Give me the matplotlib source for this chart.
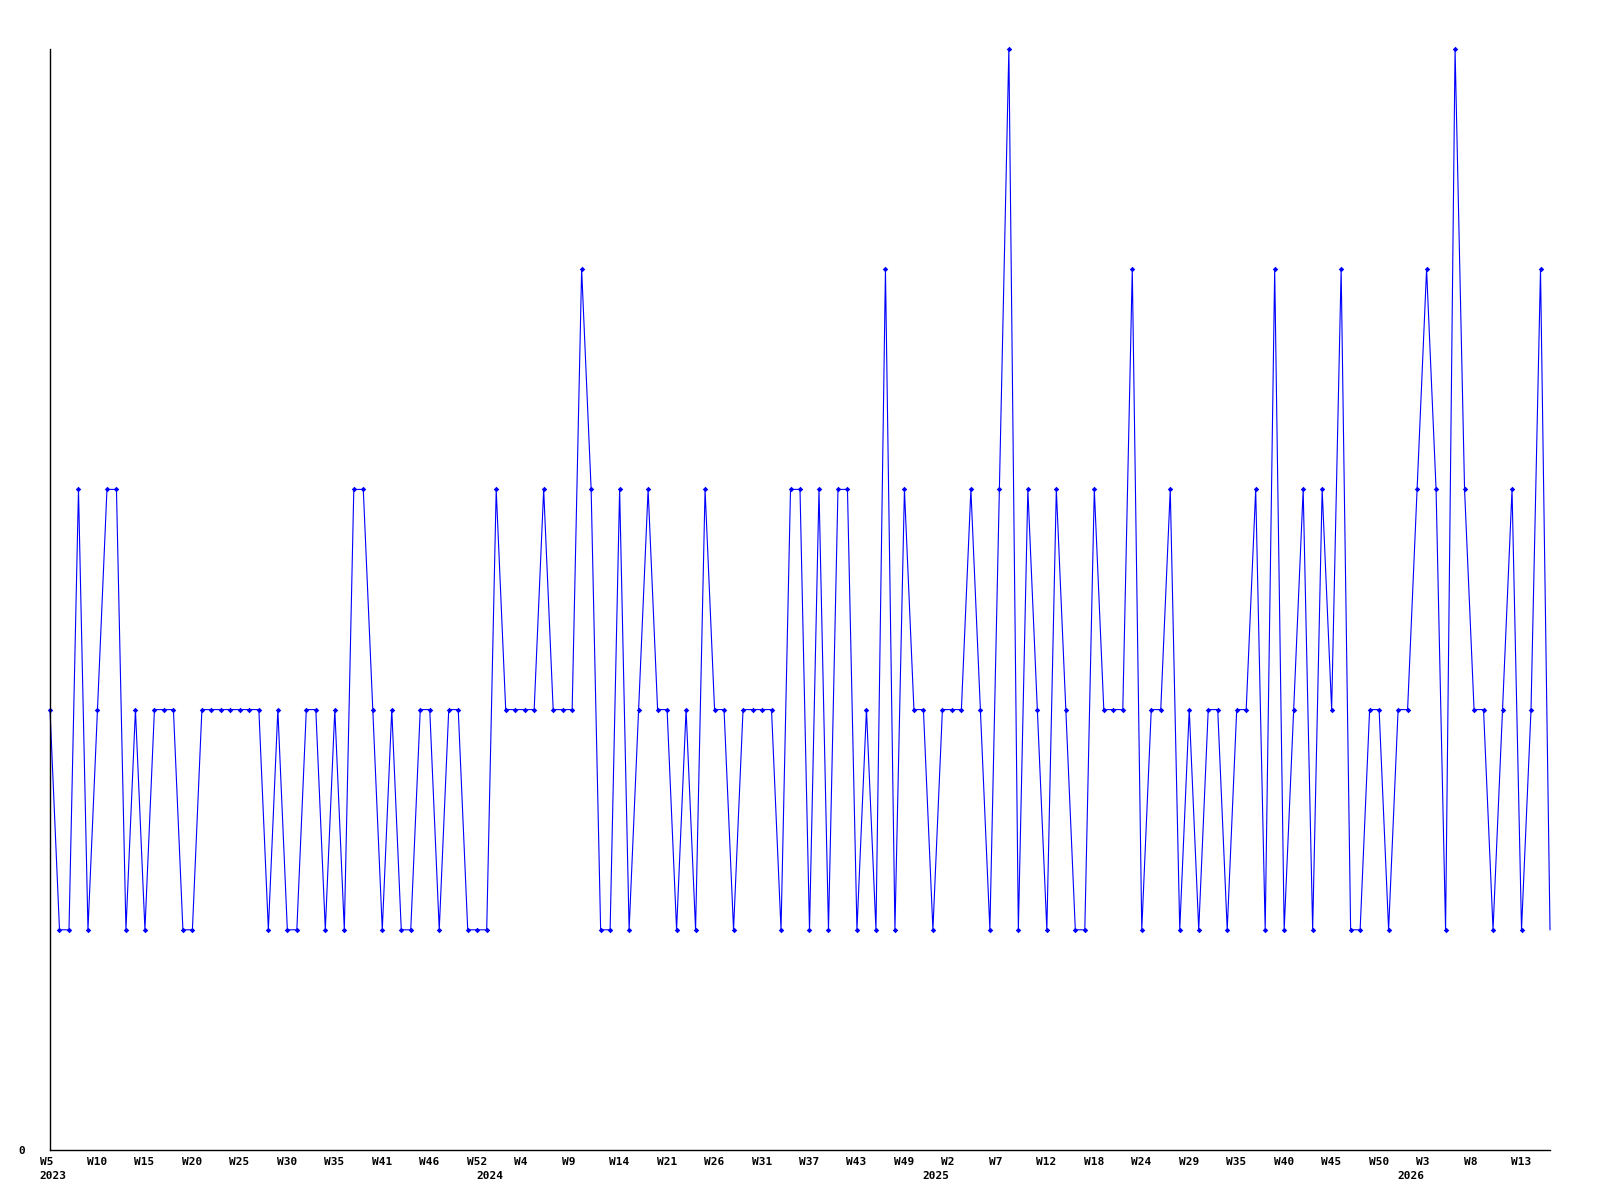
import matplotlib
matplotlib.use("Agg")
import matplotlib.pyplot as plt
from matplotlib.transforms import ScaledTranslation

# weekly values, one per point
values = [2, 1, 1, 3, 1, 2, 3, 3, 1, 2, 1, 2, 2, 2, 1, 1, 2, 2, 2, 2, 2,
          2, 2, 1, 2, 1, 1, 2, 2, 1, 2, 1, 3, 3, 2, 1, 2, 1, 1, 2, 2,
          1, 2, 2, 1, 1, 1, 3, 2, 2, 2, 2, 3, 2, 2, 2, 4, 3, 1, 1, 3,
          1, 2, 3, 2, 2, 1, 2, 1, 3, 2, 2, 1, 2, 2, 2, 2, 1, 3, 3, 1,
          3, 1, 3, 3, 1, 2, 1, 4, 1, 3, 2, 2, 1, 2, 2, 2, 3, 2, 1,
          3, 5, 1, 3, 2, 1, 3, 2, 1, 1, 3, 2, 2, 2, 4, 1, 2, 2, 3, 1, 2,
          1, 2, 2, 1, 2, 2, 3, 1, 4, 1, 2, 3, 1, 3, 2, 4, 1, 1, 2, 2,
          1, 2, 2, 3, 4, 3, 1, 5, 3, 2, 2, 1, 2, 3, 1, 2, 4, 1]

# a week label every 5th point
week_labels = ['W5', 'W10', 'W15', 'W20', 'W25', 'W30', 'W35', 'W41', 'W46', 'W52',
               'W4', 'W9', 'W14', 'W21', 'W26', 'W31', 'W37', 'W43', 'W49',
               'W2', 'W7', 'W12', 'W18', 'W24', 'W29', 'W35', 'W40', 'W45', 'W50',
               'W3', 'W8', 'W13']
year_labels = ['2023', '2024', '2025', '2026']
year_points = [0, 46, 93, 143]  # first point of each year

x = list(range(len(values)))
week_points = x[::5][:len(week_labels)]

fig = plt.figure(figsize=(16, 12), dpi=100)
ax = fig.add_axes([50 / 1600, 50 / 1200, 1500 / 1600, 1101 / 1200])

ax.plot(x, values, color='#0000ff', lw=0.8, clip_on=False)
# no marker on the last point
ax.plot(x[:-1], values[:-1], ls='none', color='#0000ff', marker='D',
        markersize=2.8, markeredgewidth=0, clip_on=False)

ax.set_xlim(0, len(values) - 1)
ax.set_ylim(0, 5)

for s in ['top', 'right']:
    ax.spines[s].set_visible(False)
ax.spines['left'].set_linewidth(1.0)
ax.spines['bottom'].set_linewidth(1.0)

font = dict(family='DejaVu Sans Mono', weight='bold', size=8)

ax.set_yticks([0], ['0'], **font)
ax.tick_params(axis='y', length=0, pad=18)

ax.xaxis.remove_overlapping_locs = False
ax.set_xticks(week_points, week_labels, **font)
ax.set_xticks(year_points, year_labels, minor=True, **font)
ax.tick_params(axis='x', which='both', length=0)
ax.tick_params(axis='x', which='major', pad=5)
ax.tick_params(axis='x', which='minor', pad=15)

# labels start a little left of their point
offset = ScaledTranslation(-10.5 / 100, 0, fig.dpi_scale_trans)
for lbl in ax.get_xticklabels(which='both'):
    lbl.set_horizontalalignment('left')
    lbl.set_transform(lbl.get_transform() + offset)

fig.savefig('out.png', dpi=100)
